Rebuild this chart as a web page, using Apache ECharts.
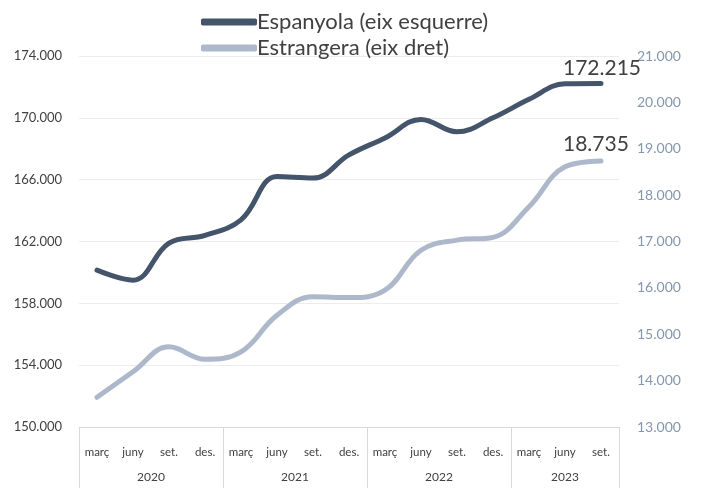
<!DOCTYPE html>
<html>
<head>
<meta charset="utf-8">
<script src="https://cdn.jsdelivr.net/npm/echarts@6/dist/echarts.min.js"></script>
<style>
  html, body { margin: 0; padding: 0; background: #fff; }
  #chart { width: 705px; height: 488px; }
</style>
</head>
<body>
<div id="chart"></div>
<script>
// quarters (2020 març .. 2023 set.)
const quarters = ['març', 'juny', 'set.', 'des.', 'març', 'juny', 'set.', 'des.', 'març', 'juny', 'set.', 'des.', 'març', 'juny', 'set.']
const years = ['2020', '2021', '2022', '2023']
const quartersPerYear = [4, 4, 4, 3]

// Espanyola (eix esquerre)
const espanyola = [160150, 159500, 161900, 162400, 163400, 166200, 166100, 167600, 168700, 169900, 169100, 170000, 171200, 172200, 172215]
// Estrangera (eix dret)
const estrangera = [13640, 14190, 14730, 14460, 14620, 15410, 15810, 15790, 15950, 16810, 17030, 17090, 17750, 18610, 18735]

const FONT = 'Lato, sans-serif'
const darkColor = '#44546A'
const lightColor = '#ADB9CA'

function fmt(v) {
  return String(Math.round(v)).replace(/\B(?=(\d{3})+(?!\d))/g, '.')
}

// year boundaries and centres on a 0..15 scale
const yearEdges = [0]
const yearCentres = []
quartersPerYear.forEach(n => {
  const start = yearEdges[yearEdges.length - 1]
  yearCentres.push(start + n / 2)
  yearEdges.push(start + n)
})

const chart = echarts.init(document.getElementById('chart'))
chart.setOption({
  animation: false,
  textStyle: { fontFamily: FONT },
  legend: {
    orient: 'vertical',
    left: 196,
    top: 6,
    itemGap: 4,
    itemWidth: 56,
    itemHeight: 7,
    icon: 'roundRect',
    textStyle: { fontSize: 22, color: '#404040', padding: [0, 0, 0, -5] },
    data: ['Espanyola (eix esquerre)', 'Estrangera (eix dret)']
  },
  grid: {
    left: 79,
    right: 86,
    top: 56,
    bottom: 61
  },
  xAxis: [
    {
      type: 'category',
      data: quarters,
      boundaryGap: true,
      axisLine: { show: true, lineStyle: { color: '#d9d9d9', width: 1 } },
      axisTick: { show: false },
      axisLabel: { interval: 0, fontSize: 11.5, color: '#404040', margin: 19 }
    },
    {
      type: 'value',
      position: 'bottom',
      offset: 0,
      min: 0,
      max: 15,
      axisLine: { show: false },
      splitLine: { show: false },
      axisTick: {
        show: true,
        customValues: yearEdges,
        length: 61,
        lineStyle: { color: '#d9d9d9', width: 1 }
      },
      axisLabel: {
        customValues: yearCentres,
        fontSize: 12,
        color: '#404040',
        margin: 44,
        formatter: v => years[yearCentres.indexOf(v)]
      }
    }
  ],
  yAxis: [
    {
      type: 'value',
      min: 150000,
      max: 174000,
      interval: 4000,
      axisLine: { show: false },
      axisTick: { show: false },
      splitLine: { lineStyle: { color: '#ececec', width: 1 } },
      axisLabel: { fontSize: 13, color: '#404040', margin: 17, formatter: fmt }
    },
    {
      type: 'value',
      min: 13000,
      max: 21000,
      interval: 1000,
      axisLine: { show: false },
      axisTick: { show: false },
      splitLine: { show: false },
      axisLabel: { fontSize: 14, color: '#8497B0', margin: 18, formatter: fmt }
    }
  ],
  series: [
    {
      name: 'Espanyola (eix esquerre)',
      type: 'line',
      yAxisIndex: 0,
      smooth: 0.4,
      symbol: 'none',
      color: darkColor,
      lineStyle: { width: 5, color: darkColor, cap: 'round' },
      endLabel: {
        show: true,
        distance: 0,
        offset: [-38, -15],
        fontSize: 21,
        color: '#404040',
        formatter: p => fmt(p.value)
      },
      data: espanyola
    },
    {
      name: 'Estrangera (eix dret)',
      type: 'line',
      yAxisIndex: 1,
      smooth: 0.4,
      symbol: 'none',
      color: lightColor,
      lineStyle: { width: 5, color: lightColor, cap: 'round' },
      endLabel: {
        show: true,
        distance: 0,
        offset: [-38, -17],
        fontSize: 21,
        color: '#404040',
        formatter: p => fmt(p.value)
      },
      data: estrangera
    }
  ]
})
</script>
</body>
</html>
